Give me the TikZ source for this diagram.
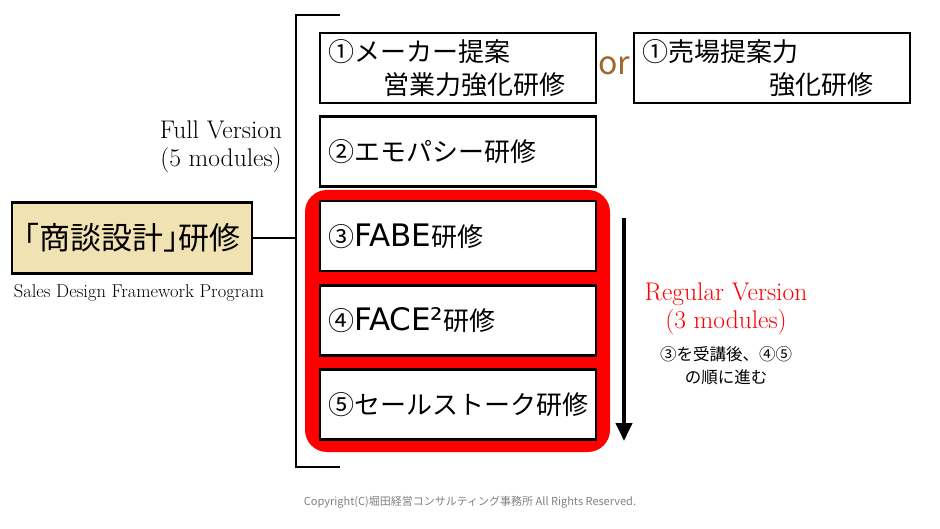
\documentclass[tikz,border=0pt]{standalone}
\usepackage{fontspec}
\usetikzlibrary{arrows.meta,positioning}
\newfontfamily\jpfont{Noto Sans CJK JP}
\newfontfamily\latfont{DejaVu Sans}
\definecolor{progbeige}{RGB}{240,226,178}
\definecolor{orbrown}{RGB}{160,104,48}
\tikzset{
  modbox/.style={draw, line width=2.5pt, fill=white, minimum width=276pt, minimum height=70pt,
    inner xsep=8pt, text width=260pt, align=left, font=\jpfont\fontsize{26}{33}\selectfont},
  serifnote/.style={align=center, font=\fontsize{25.5}{28}\selectfont}
}
\newcommand\modlat[1]{{\latfont\fontsize{31}{33}\selectfont #1}}
\newcommand\halfbr[1]{{\addfontfeature{RawFeature=+halt}#1}}
\begin{document}
\begin{tikzpicture}[x=1pt,y=-1pt]
\useasboundingbox (0,0) rectangle (940,529);

\node[draw, line width=2.5pt, fill=progbeige, minimum width=240pt, minimum height=71pt,
  font=\jpfont\fontsize{31}{34}\selectfont] (prog) at (132,238) {\halfbr{「}商談設計\halfbr{」}研修};
\node[font=\fontsize{18.5}{20}\selectfont] (progen) at (139,293) {Sales Design Framework Program};
\node[serifnote] (full) at (221,147) {Full Version\\(5 modules)};

\coordinate (bt) at (296,15);
\coordinate (bb) at (296,467);
\draw[line width=2.5pt] (340,15) -- (bt) -- (bb) -- (340,467);
\draw[line width=2.5pt] (prog.east) -- (prog.east -| bt);

\node[fill=red, rounded corners=22pt, minimum width=305pt, minimum height=262pt] (reg) at (457.5,321) {};

\node[modbox] (m1) at (458,68) {①メーカー提案\\\hspace*{55pt}営業力強化研修};
\node[text=orbrown, font=\jpfont\fontsize{32}{36}\selectfont] (or) at (614,66) {or};
\node[modbox] (m1b) at (772,68) {①売場提案力\\\hspace*{127pt}強化研修};
\node[modbox] (m2) at (458,151.5) {②エモパシー研修};
\node[modbox] (m3) at (458,236) {③\modlat{FABE}研修};
\node[modbox] (m4) at (458,320.5) {④\modlat{FACE²}研修};
\node[modbox] (m5) at (458,404.5) {⑤セールストーク研修};

\coordinate (arrtop) at (624,218);
\coordinate (arrbot) at (624,441);
\draw[line width=4pt, -{Triangle[width=16pt,length=18pt]}] (arrtop) -- (arrbot);

\node[serifnote, text=red] (regver) at (726,309) {Regular Version\\(3 modules)};
\node[align=center, font=\jpfont\fontsize{16.5}{23}\selectfont] (order) at (726,366) {③を受講後、④⑤\\の順に進む};

\node[text=gray, font=\jpfont\fontsize{11}{13}\selectfont] (copy) at (470,502) {Copyright(C)堀田経営コンサルティング事務所 All Rights Reserved.};
\end{tikzpicture}
\end{document}
